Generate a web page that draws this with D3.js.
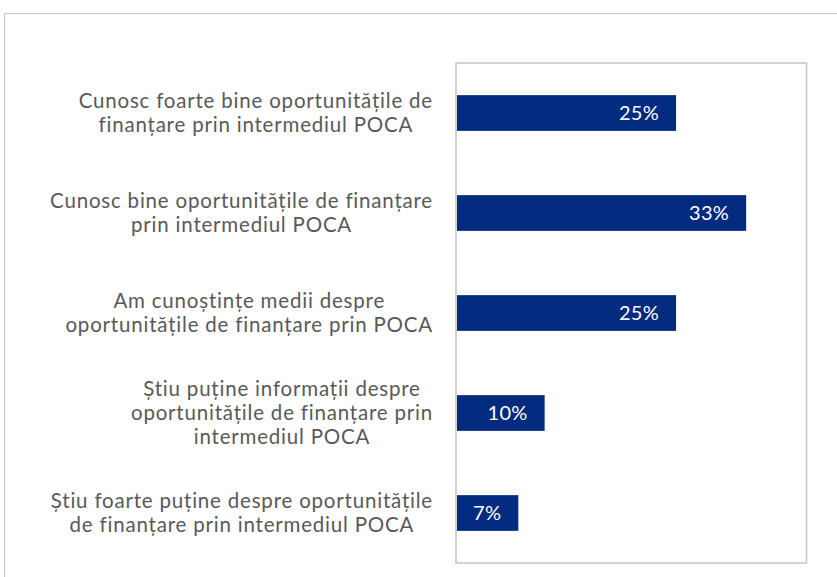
<!DOCTYPE html>
<html>
<head>
<meta charset="utf-8">
<script src="https://cdn.jsdelivr.net/npm/d3@7"></script>
<style>
  body { margin: 0; background: #fff; }
  svg { display: block; }
</style>
</head>
<body>
<div id="chart"></div>
<script>
// Data
const categories = [
  "Cunosc foarte bine oportunitățile de finanțare prin intermediul POCA",
  "Cunosc bine oportunitățile de finanțare prin intermediul POCA",
  "Am cunoștințe medii despre oportunitățile de finanțare prin POCA",
  "Știu puține informații despre oportunitățile de finanțare prin intermediul POCA",
  "Știu foarte puține despre oportunitățile de finanțare prin intermediul POCA"
];
const labelLines = [
  ["Cunosc foarte bine oportunitățile de", "finanțare prin intermediul POCA"],
  ["Cunosc bine oportunitățile de finanțare", "prin intermediul POCA"],
  ["Am cunoștințe medii despre", "oportunitățile de finanțare prin POCA"],
  ["Știu puține informații despre", "oportunitățile de finanțare prin", "intermediul POCA"],
  ["Știu foarte puține despre oportunitățile", "de finanțare prin intermediul POCA"]
];
const values = [25, 33, 25, 10, 7];

// Layout
const W = 837, H = 577;
const plot = { left: 456, top: 63, right: 806.5, bottom: 563 };
const labelRight = 433;
const barColor = "#022a7e";
const font = "Lato, 'Open Sans', sans-serif";

const svg = d3.select("#chart").append("svg")
  .attr("width", W)
  .attr("height", H);

// outer frame
svg.append("rect")
  .attr("x", 4.5).attr("y", 13.5)
  .attr("width", W + 10).attr("height", H)
  .attr("fill", "none")
  .attr("stroke", "#c4c4c4")
  .attr("stroke-width", 1);

const x = d3.scaleLinear()
  .domain([0, 40])
  .range([plot.left, plot.right]);

const y = d3.scaleBand()
  .domain(categories)
  .range([plot.top, plot.bottom])
  .paddingInner(0.643)
  .paddingOuter(0.3215);

// plot area box
svg.append("rect")
  .attr("x", plot.left).attr("y", plot.top)
  .attr("width", plot.right - plot.left)
  .attr("height", plot.bottom - plot.top)
  .attr("fill", "none")
  .attr("stroke", "#c4c4c4")
  .attr("stroke-width", 1.5);

// bars
svg.selectAll(".bar")
  .data(values)
  .enter()
  .append("rect")
  .attr("class", "bar")
  .attr("x", x(0) + 1)
  .attr("y", (d, i) => y(categories[i]))
  .attr("width", d => x(d) - x(0))
  .attr("height", y.bandwidth())
  .attr("fill", barColor);

// value labels (inside end)
svg.selectAll(".val")
  .data(values)
  .enter()
  .append("text")
  .attr("class", "val")
  .attr("x", d => x(d) - 16)
  .attr("y", (d, i) => y(categories[i]) + y.bandwidth() / 2)
  .attr("dy", "0.36em")
  .attr("text-anchor", "end")
  .attr("fill", "#fff")
  .style("font-family", font)
  .style("font-size", "20px")
  .style("letter-spacing", "0.3px")
  .text(d => d + "%");

// category labels, multi-line, centered block right-aligned to the axis
const lineH = 24;
labelLines.forEach((lines, i) => {
  const cy = y(categories[i]) + y.bandwidth() / 2;
  const g = svg.append("g");
  const texts = lines.map((ln, k) => g.append("text")
    .attr("y", cy + (k - (lines.length - 1) / 2) * lineH)
    .attr("dy", "0.36em")
    .attr("text-anchor", "middle")
    .attr("fill", "#595959")
    .style("font-family", font)
    .style("font-size", "20.5px")
    .style("letter-spacing", "0.8px")
    .text(ln));
  const maxW = d3.max(texts, t => t.node().getComputedTextLength());
  texts.forEach(t => t.attr("x", labelRight - maxW / 2));
});
</script>
</body>
</html>
